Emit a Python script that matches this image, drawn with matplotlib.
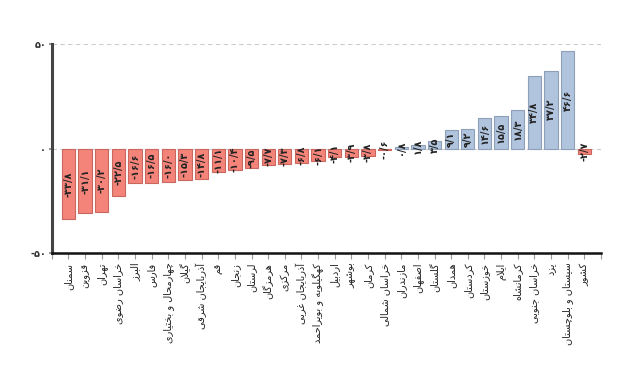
import matplotlib
matplotlib.use("Agg")
import matplotlib.pyplot as plt

provinces = ["سمنان", "قزوین", "تهران", "خراسان رضوی", "البرز", "فارس",
             "چهارمحال و بختیاری", "گیلان", "آذربایجان شرقی", "قم", "زنجان",
             "لرستان", "هرمزگان", "مرکزی", "آذربایجان غربی",
             "کهگیلویه و بویراحمد", "اردبیل", "بوشهر", "کرمان", "خراسان شمالی",
             "مازندران", "اصفهان", "گلستان", "همدان", "کردستان", "خوزستان",
             "ایلام", "کرمانشاه", "خراسان جنوبی", "یزد", "سیستان و بلوچستان",
             "کشور"]
values = [-33.8, -31.1, -30.2, -22.5, -16.6, -16.5, -16.0, -15.3, -14.8, -11.1,
          -10.4, -9.5, -7.7, -7.3, -6.8, -6.1, -4.1, -3.9, -3.8, -0.6,
          0.8, 1.8, 3.5, 9.1, 9.2, 14.6, 15.5, 18.3, 34.8, 37.2, 46.6, -2.7]
yticks = [-50, 0, 50]

# --- minimal Persian shaping (presentation forms) ---
FORMS = {  # isolated, final, initial, medial
    'ا': (0xFE8D, 0xFE8E, None, None), 'آ': (0xFE81, 0xFE82, None, None),
    'ب': (0xFE8F, 0xFE90, 0xFE91, 0xFE92), 'پ': (0xFB56, 0xFB57, 0xFB58, 0xFB59),
    'ت': (0xFE95, 0xFE96, 0xFE97, 0xFE98), 'ث': (0xFE99, 0xFE9A, 0xFE9B, 0xFE9C),
    'ج': (0xFE9D, 0xFE9E, 0xFE9F, 0xFEA0), 'چ': (0xFB7A, 0xFB7B, 0xFB7C, 0xFB7D),
    'ح': (0xFEA1, 0xFEA2, 0xFEA3, 0xFEA4), 'خ': (0xFEA5, 0xFEA6, 0xFEA7, 0xFEA8),
    'د': (0xFEA9, 0xFEAA, None, None), 'ذ': (0xFEAB, 0xFEAC, None, None),
    'ر': (0xFEAD, 0xFEAE, None, None), 'ز': (0xFEAF, 0xFEB0, None, None),
    'ژ': (0xFB8A, 0xFB8B, None, None),
    'س': (0xFEB1, 0xFEB2, 0xFEB3, 0xFEB4), 'ش': (0xFEB5, 0xFEB6, 0xFEB7, 0xFEB8),
    'ص': (0xFEB9, 0xFEBA, 0xFEBB, 0xFEBC), 'ض': (0xFEBD, 0xFEBE, 0xFEBF, 0xFEC0),
    'ط': (0xFEC1, 0xFEC2, 0xFEC3, 0xFEC4), 'ظ': (0xFEC5, 0xFEC6, 0xFEC7, 0xFEC8),
    'ع': (0xFEC9, 0xFECA, 0xFECB, 0xFECC), 'غ': (0xFECD, 0xFECE, 0xFECF, 0xFED0),
    'ف': (0xFED1, 0xFED2, 0xFED3, 0xFED4), 'ق': (0xFED5, 0xFED6, 0xFED7, 0xFED8),
    'ک': (0xFB8E, 0xFB8F, 0xFB90, 0xFB91), 'گ': (0xFB92, 0xFB93, 0xFB94, 0xFB95),
    'ل': (0xFEDD, 0xFEDE, 0xFEDF, 0xFEE0), 'م': (0xFEE1, 0xFEE2, 0xFEE3, 0xFEE4),
    'ن': (0xFEE5, 0xFEE6, 0xFEE7, 0xFEE8), 'و': (0xFEED, 0xFEEE, None, None),
    'ه': (0xFEE9, 0xFEEA, 0xFEEB, 0xFEEC), 'ی': (0xFBFC, 0xFBFD, 0xFBFE, 0xFBFF),
}


def dual(c):
    return c in FORMS and FORMS[c][2] is not None


def shape(text):
    chars = list(text)
    out = []
    i = 0
    n = len(chars)
    while i < n:
        c = chars[i]
        if c not in FORMS:
            out.append(c)
            i += 1
            continue
        prev = chars[i - 1] if i > 0 else ''
        joins_prev = dual(prev)
        # lam-alef ligature
        if c == 'ل' and i + 1 < n and chars[i + 1] in ('ا', 'آ'):
            if chars[i + 1] == 'ا':
                out.append(chr(0xFEFC if joins_prev else 0xFEFB))
            else:
                out.append(chr(0xFEF6 if joins_prev else 0xFEF5))
            i += 2
            continue
        nxt = chars[i + 1] if i + 1 < n else ''
        joins_next = dual(c) and nxt in FORMS
        iso, fin, ini, med = FORMS[c]
        if joins_prev and joins_next:
            cp = med
        elif joins_prev:
            cp = fin
        elif joins_next:
            cp = ini
        else:
            cp = iso
        out.append(chr(cp))
        i += 1
    return ''.join(reversed(out))


PD = str.maketrans('0123456789.', '۰۱۲۳۴۵۶۷۸۹/')


def fa_num(v, fmt='{:.1f}'):
    s = fmt.format(abs(v)).translate(PD)
    return ('-' if v < 0 else '') + s


plt.rcParams['font.family'] = ['DejaVu Sans']

fig = plt.figure(figsize=(6.4, 3.77), dpi=100)
ax = fig.add_axes([0.081, 0.329, 0.858, 0.554])

x = list(range(len(values)))
colors = ['#f4847a' if v < 0 else '#b0c4de' for v in values]
edges = ['#c9675f' if v < 0 else '#8e9fb8' for v in values]
ax.bar(x, values, width=0.8, color=colors, edgecolor=edges, linewidth=0.8, zorder=2)

for xi, v in zip(x, values):
    ax.text(xi, v / 2, fa_num(v), rotation=90, ha='center', va='center',
            fontsize=7, fontweight='bold', color='#222222', zorder=3)

ax.set_xlim(-1, len(values))
ax.set_ylim(-50, 50)
for yv in (0, 50):
    ax.axhline(yv, color='#cccccc', linestyle=(0, (4, 3)), linewidth=0.8, zorder=1)

ax.set_xticks(list(range(-1, len(values) + 1)))
ax.set_xticklabels([''] + [shape(p) for p in provinces] + [''], rotation=90,
                   fontsize=7, color='#222222')
ax.set_yticks(yticks)
ax.set_yticklabels([fa_num(t, '{:.0f}') for t in yticks], fontsize=7, fontweight='bold',
                   color='#333333')
ax.tick_params(axis='x', length=4, width=0.8, color='#999999', pad=3)
ax.tick_params(axis='y', length=2, width=1.5, color='#999999', pad=2)

for s in ('top', 'right'):
    ax.spines[s].set_visible(False)
ax.spines['left'].set_color('#444444')
ax.spines['left'].set_linewidth(2.2)
ax.spines['bottom'].set_color('#111111')
ax.spines['bottom'].set_linewidth(1.8)

fig.savefig('out.png', dpi=100)
